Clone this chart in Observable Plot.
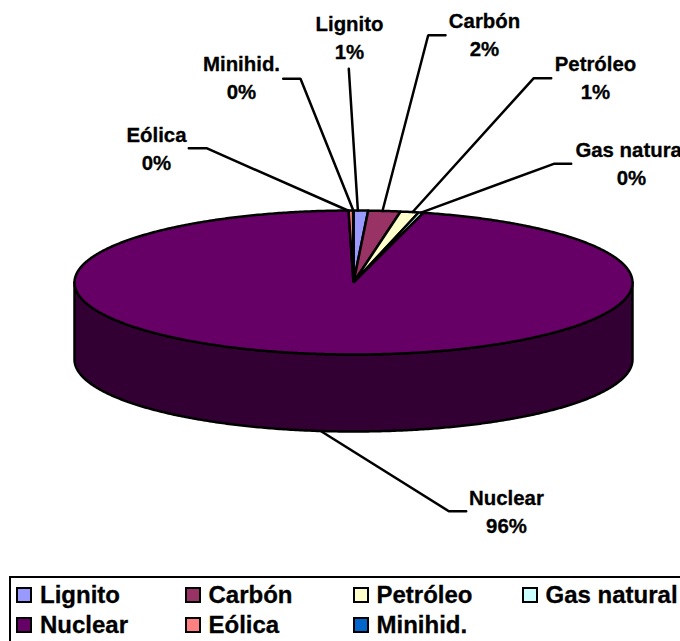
<!DOCTYPE html>
<html>
<head>
<meta charset="utf-8">
<script src="https://cdn.jsdelivr.net/npm/d3@7"></script>
<script src="https://cdn.jsdelivr.net/npm/@observablehq/plot@0.6"></script>
<style>
html,body{margin:0;padding:0;background:#fff;width:680px;height:641px;overflow:hidden}
#chart{position:relative;width:680px;height:641px;font-family:"Liberation Sans",Arial,sans-serif}
#chart svg{display:block}
#legend{position:absolute;left:9px;top:576px;width:690px;height:80px;border:2.5px solid #000;box-sizing:border-box;background:#fff}
.item{position:absolute;display:flex;align-items:center;font-weight:bold;font-size:24px;line-height:20px;height:20px;color:#000;white-space:nowrap;-webkit-text-stroke:.3px #000}
.swatch{width:12px;height:12px;border:2.5px solid #000;margin-right:8px;flex:none}
</style>
</head>
<body>
<div id="chart"></div>
<script>
const names  = ["Lignito","Carbón","Petróleo","Gas natural","Nuclear","Eólica","Minihid."];
const shares = [0.84,1.86,1.05,0.28,95.69,0.26,0.02];
const colors = ["#9999FF","#993366","#FFFFCC","#CCFFFF","#660066","#FF8080","#0066CC"];
const sideColor = "#330033";

// pie geometry, in the x / y scale units
const cx = 353, cy = 282, rx = 279, ry = 72, depth = 77;
const W = 680, H = 577;
const onRim = (deg, drop = 0) => {
  const a = deg * Math.PI / 180;
  return {x: cx + rx * Math.sin(a), y: cy - ry * Math.cos(a) + drop};
};
const range = (a, b) => {
  const n = Math.max(2, Math.ceil(Math.abs(b - a) * 2));
  return d3.range(n + 1).map(i => a + (b - a) * i / n);
};

// slices, computed from the shares
const total = d3.sum(shares);
let run = 0;
const slices = names.map((name, i) => {
  const start = run / total * 360;
  run += shares[i];
  return {name, share: shares[i], start, end: run / total * 360};
});
const slicePts = slices.flatMap(s => [
  {name: s.name, x: cx, y: cy},
  ...range(s.start, s.end).map(d => ({name: s.name, ...onRim(d)}))
]);
const front = range(90, 270);
const sidePts = [
  ...front.map(d => onRim(d)),
  ...front.slice().reverse().map(d => onRim(d, depth))
];

// label layout: centre of the label, leader elbow and label-side end
const labelLayout = {
  "Lignito":     {lx: 349, ly: 35.5,  elbow: [[348.3,68.3]], nudge: -3},
  "Carbón":      {lx: 484, ly: 33,    elbow: [[427.7,34.7],[445,34.7]], nudge: -2},
  "Petróleo":    {lx: 595, ly: 75.5,  elbow: [[533.3,77.7],[550.7,77.7]], nudge: 3},
  "Gas natural": {lx: 631, ly: 162,   elbow: [[553.3,163.3],[570.7,163.3]], nudge: 0},
  "Nuclear":     {lx: 506, ly: 509.5, elbow: [[448.3,510.7],[465.7,510.7]], nudge: 0, drop: depth},
  "Eólica":      {lx: 156, ly: 146.5, elbow: [[206,147.7],[188.3,147.7]], nudge: -3},
  "Minihid.":    {lx: 241, ly: 76,    elbow: [[300,78.3],[282.7,78.3]], nudge: 0}
};

const leaderPts = slices.flatMap(s => {
  const L = labelLayout[s.name];
  const p = onRim((s.start + s.end) / 2, L.drop || 0);
  const pts = [{x: p.x + L.nudge, y: p.y}, ...L.elbow.map(([x, y]) => ({x, y}))];
  return pts.map(q => ({name: s.name, ...q}));
});
const labels = slices.map(s => ({
  x: labelLayout[s.name].lx,
  y: labelLayout[s.name].ly,
  text: `${s.name}\n${d3.format(".0f")(s.share)}%`
}));

const plot = Plot.plot({
  width: W, height: H, margin: 0,
  x: {domain: [0, W], range: [0, W], axis: null},
  y: {domain: [0, H], range: [0, H], axis: null},
  color: {domain: names, range: colors},
  style: {background: "#fff"},
  marks: [
    Plot.line(sidePts, {x: "x", y: "y", fill: sideColor, stroke: "#000", strokeWidth: 2.5, curve: "linear-closed"}),
    Plot.line(slicePts, {x: "x", y: "y", z: "name", fill: "name", stroke: "#000", strokeWidth: 2.5, strokeLinejoin: "miter", curve: "linear-closed"}),
    Plot.line(leaderPts, {x: "x", y: "y", z: "name", stroke: "#000", strokeWidth: 2.5, strokeLinejoin: "miter", curve: "linear"}),
    Plot.text(labels, {x: "x", y: "y", text: "text", fontFamily: "Liberation Sans", fontWeight: "bold", fontSize: 20.4, lineHeight: 1.37, fill: "#000", stroke: "#000", strokeWidth: 0.3, textAnchor: "middle"})
  ]
});
const root = document.getElementById("chart");
root.appendChild(plot);

// legend: four columns, two rows
const legendCols = [5, 173.5, 341.5, 510.5];
const legendRows = [6.5, 37];
const legend = document.createElement("div");
legend.id = "legend";
names.forEach((name, i) => {
  const el = document.createElement("div");
  el.className = "item";
  el.style.left = legendCols[i % 4] + "px";
  el.style.top = legendRows[Math.floor(i / 4)] + "px";
  const sw = document.createElement("span");
  sw.className = "swatch";
  sw.style.background = colors[i];
  el.appendChild(sw);
  el.appendChild(document.createTextNode(name));
  legend.appendChild(el);
});
root.appendChild(legend);
</script>
</body>
</html>
